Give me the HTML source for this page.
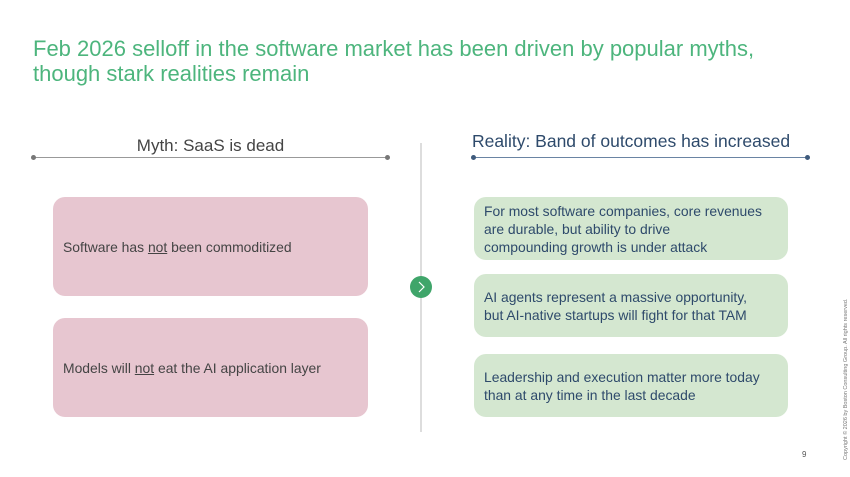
<!DOCTYPE html>
<html><head><meta charset="utf-8"><style>
body{margin:0;width:850px;height:477px;background:#fff;position:relative;overflow:hidden;font-family:"Liberation Sans","DejaVu Sans",sans-serif}
.a{position:absolute}
.t{left:33px;top:36px;font-size:22px;line-height:25px;color:#4db57d}
.box{position:absolute;border-radius:12px;display:flex;align-items:center;box-sizing:border-box;padding-left:10px;font-size:13.9px;line-height:18px;white-space:nowrap}
.p{background:#e7c6d0;color:#444}
.g{background:#d4e7d0;color:#2e4a6b}
.dot{position:absolute;width:5px;height:5px;border-radius:50%}
</style></head><body>
<div class="a t">Feb 2026 selloff in the software market has been driven by popular myths,<br>though stark realities remain</div>
<div class="a" style="left:33px;width:355px;top:136px;text-align:center;font-size:17px;color:#444">Myth: SaaS is dead</div>
<div class="a" style="left:35px;top:157px;width:352px;height:1px;background:#999"></div>
<div class="dot" style="left:31px;top:155px;background:#777"></div>
<div class="dot" style="left:385px;top:155px;background:#777"></div>
<div class="a" style="left:455px;width:352px;top:131px;text-align:center;font-size:17.5px;color:#2e4a6b">Reality: Band of outcomes has increased</div>
<div class="a" style="left:475px;top:157px;width:332px;height:1px;background:#6a84a3"></div>
<div class="dot" style="left:471px;top:155px;background:#3e5a7c"></div>
<div class="dot" style="left:805px;top:155px;background:#3e5a7c"></div>
<div class="a" style="left:420px;top:143px;width:2px;height:289px;background:#ddd"></div>
<div class="a" style="left:410px;top:276px;width:22px;height:22px;border-radius:50%;background:#3fa56a"></div>
<svg class="a" style="left:410px;top:276px" width="22" height="22"><polyline points="9,6 14,11 9,16" fill="none" stroke="#fff" stroke-width="1.2"/></svg>
<div class="box p" style="left:53px;top:197px;width:315px;height:99px">Software has&nbsp;<u>not</u>&nbsp;been commoditized</div>
<div class="box p" style="left:53px;top:318px;width:315px;height:99px;align-items:flex-start;padding-top:41px">Models will&nbsp;<u>not</u>&nbsp;eat the AI application layer</div>
<div class="box g" style="left:474px;top:197px;width:314px;height:63px">For most software companies, core revenues<br>are durable, but ability to drive<br>compounding growth is under attack</div>
<div class="box g" style="left:474px;top:274px;width:314px;height:63px">AI agents represent a massive opportunity,<br>but AI-native startups will fight for that TAM</div>
<div class="box g" style="left:474px;top:354px;width:314px;height:63px">Leadership and execution matter more today<br>than at any time in the last decade</div>
<div class="a" style="left:802px;top:450px;font-size:8px;color:#555">9</div>
<div class="a" style="left:843px;top:460px;transform:rotate(-90deg);transform-origin:0 0;font-size:5.5px;color:#777;white-space:nowrap">Copyright © 2026 by Boston Consulting Group. All rights reserved.</div>
</body></html>
